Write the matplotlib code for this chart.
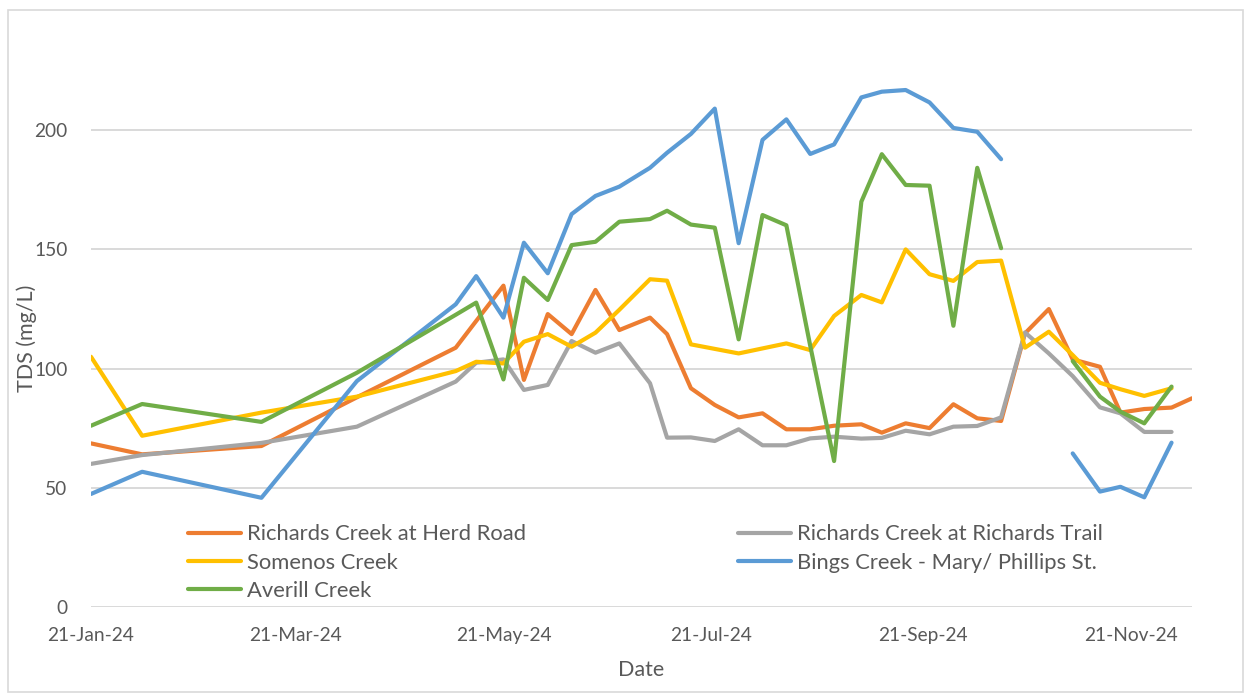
import numpy as np
import matplotlib
matplotlib.use("Agg")
import matplotlib.pyplot as plt
import matplotlib.dates as mdates
from matplotlib.patches import Rectangle
from matplotlib.lines import Line2D
import datetime as dt

nan = np.nan

dates = ["2024-01-21", "2024-02-05", "2024-03-11", "2024-04-08", "2024-05-07", "2024-05-13",
         "2024-05-21", "2024-05-27", "2024-06-03", "2024-06-10", "2024-06-17", "2024-06-24",
         "2024-07-03", "2024-07-08", "2024-07-15", "2024-07-22", "2024-07-29", "2024-08-05",
         "2024-08-12", "2024-08-19", "2024-08-26", "2024-09-03", "2024-09-09", "2024-09-16",
         "2024-09-23", "2024-09-30", "2024-10-07", "2024-10-14", "2024-10-21", "2024-10-28",
         "2024-11-04", "2024-11-12", "2024-11-18", "2024-11-25", "2024-12-03", "2024-12-09"]

herd_road = [68.7, 64.1, 67.6, 88.0, 108.8, 120.0, 134.8, 95.3, 122.9, 114.5, 133.0, 116.2,
             121.4, 114.5, 91.8, 84.8, 79.6, 81.3, 74.6, 74.6, 76.1, 76.7, 73.2, 77.1,
             75.1, 85.1, 79.2, 78.1, 114.8, 125.0, 103.9, 100.8, 81.6, 83.1, 83.7, 87.6]

richards_trail = [60.1, 63.8, 68.9, 75.7, 94.6, 102.5, 103.9, 91.1, 93.2, 111.6, 106.7, 110.6,
                  93.9, 71.1, 71.2, 69.7, 74.6, 67.9, 67.9, 70.8, 71.5, 70.7, 71.0, 74.0,
                  72.5, 75.7, 76.0, 79.6, 115.2, 106.4, 96.9, 83.8, 81.3, 73.5, 73.5, nan]

somenos = [105.0, 71.9, 81.6, 88.3, 99.0, 102.9, 102.2, 111.3, 114.5, 109.2, 115.1, 124.7,
           137.5, 136.9, 110.2, 108.3, 106.4, 108.5, 110.6, 107.8, 122.1, 130.9, 127.8, 150.0,
           139.6, 136.8, 144.7, 145.3, 108.8, 115.5, 105.7, 94.1, 91.4, 88.6, 91.8, nan]

bings = [47.5, 56.8, 45.9, 94.8, 127.0, 138.8, 121.4, 152.8, 140.0, 164.8, 172.4, 176.3,
         184.2, 190.5, 198.4, 209.0, 152.6, 195.9, 204.5, 190.0, 194.0, 213.7, 216.1, 216.8,
         211.6, 200.9, 199.3, 187.8, nan, nan, 64.5, 48.5, 50.5, 46.1, 69.0, nan]

averill = [76.1, 85.2, 77.7, 98.3, 122.6, 127.7, 95.5, 138.1, 128.8, 151.8, 153.2, 161.6,
           162.7, 166.2, 160.4, 159.1, 112.3, 164.4, 160.1, 109.6, 61.3, 170.0, 189.9, 177.0,
           176.7, 118.0, 184.2, 150.5, nan, nan, 103.2, 88.3, 82.0, 77.1, 92.5, nan]

series_names = ["Richards Creek at Herd Road", "Richards Creek at Richards Trail", "Somenos Creek",
                "Bings Creek - Mary/ Phillips St.", "Averill Creek"]
series_values = [herd_road, richards_trail, somenos, bings, averill]
series_colors = ["#ED7D31", "#A5A5A5", "#FFC000", "#5B9BD5", "#70AD47"]

xtick_dates = ["2024-01-21", "2024-03-21", "2024-05-21", "2024-07-21", "2024-09-21", "2024-11-21"]
yticks = [0, 50, 100, 150, 200]

FONT = "Lato"
TXT = "#595959"
FS_TICK = 13.8
FS_LEG = 15.8
FS_LAB = 15.5

W, H = 1249, 694
fig = plt.figure(figsize=(W / 100, H / 100), dpi=100)

# chart border
fig.patches.append(Rectangle((8 / W, 1 - 692 / H), (1243 - 8) / W, (692 - 9.5) / H,
                             transform=fig.transFigure, fill=False, edgecolor="#D9D9D9", lw=1.2))

ax_l, ax_r, ax_t, ax_b = 91, 1192, 10.8, 607.3
ax = fig.add_axes([ax_l / W, 1 - ax_b / H, (ax_r - ax_l) / W, (ax_b - ax_t) / H])

x = [dt.datetime.strptime(d, "%Y-%m-%d") for d in dates]
handles = {}
for name, vals, col in zip(series_names, series_values, series_colors):
    ln, = ax.plot(x, vals, color=col, lw=3.0, solid_capstyle="round", solid_joinstyle="round",
                  label=name)
    handles[name] = ln

ax.set_xlim(dt.datetime(2024, 1, 21), dt.datetime(2024, 12, 9))
ax.set_ylim(0, 250)
ax.set_yticks(yticks)
ax.set_xticks([dt.datetime.strptime(d, "%Y-%m-%d") for d in xtick_dates])
ax.xaxis.set_major_formatter(mdates.DateFormatter("%d-%b-%y"))
ax.yaxis.grid(True, color="#D9D9D9", lw=1.4)
ax.set_axisbelow(True)
for s in ax.spines.values():
    s.set_visible(False)
ax.tick_params(axis="both", length=0, colors=TXT, labelsize=FS_TICK)
ax.tick_params(axis="y", pad=17)
ax.tick_params(axis="x", pad=14)
for lab in ax.get_xticklabels() + ax.get_yticklabels():
    lab.set_fontfamily(FONT)

fig.text(27 / W, 1 - 338 / H, "TDS (mg/L)", rotation=90, ha="center", va="center",
         fontsize=FS_LAB, color=TXT, family=FONT)
fig.text(641 / W, 1 - 670 / H, "Date", ha="center", va="center", fontsize=FS_LAB, color=TXT,
         family=FONT)

def mk_leg(names, xpx):
    hs = [Line2D([], [], color=handles[n].get_color(), lw=3.0, solid_capstyle="round") for n in names]
    leg = fig.legend(hs, names, loc="upper left", bbox_to_anchor=(xpx / W, 1 - 524.5 / H),
                     frameon=False, prop={"family": FONT, "size": FS_LEG}, handlelength=2.4,
                     handletextpad=0.3, labelspacing=0.37, borderaxespad=0, borderpad=0,
                     labelcolor=TXT)
    return leg

mk_leg([series_names[0], series_names[2], series_names[4]], 188)
mk_leg([series_names[1], series_names[3]], 738)

fig.savefig("out.png", dpi=100)
